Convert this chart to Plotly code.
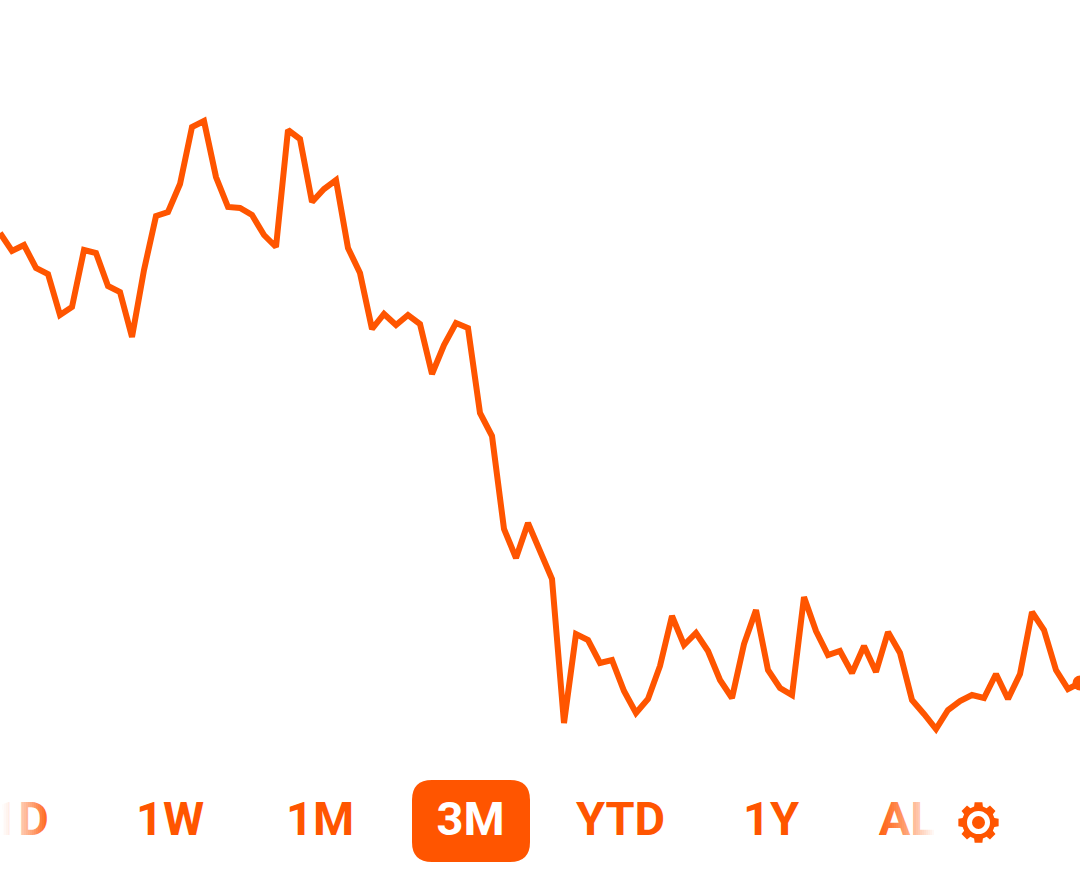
import math
import plotly.graph_objects as go

# Chart data: one reading per step
steps = list(range(91))
price = [653, 635, 641, 618, 612, 571, 579, 636, 633, 600, 594, 549, 616, 670, 674, 702, 759, 765, 709, 679,
         678, 671, 651, 639, 756, 747, 684, 697, 706, 638, 613, 557, 572, 561, 571, 562, 512, 541, 563, 558,
         473, 450, 357, 328, 363, 335, 307, 163, 252, 246, 223, 226, 195, 173, 187, 220, 270, 241, 253, 235,
         206, 188, 242, 276, 216, 198, 191, 289, 255, 231, 235, 213, 240, 214, 254, 233, 186, 172, 157, 176,
         185, 191, 188, 212, 187, 212, 274, 256, 216, 197, 203]
range_labels = ["1D", "1W", "1M", "3M", "YTD", "1Y", "ALL"]
selected_label = "3M"

ORANGE = "#FF5500"
W, H = 1080, 886
label_x = [20, 170, 320, 470.5, 620.5, 771, 920]
label_y = 823.5


def rounded_rect(x0, y0, x1, y1, r):
    return (f"M{x0+r},{y0} L{x1-r},{y0} Q{x1},{y0} {x1},{y0+r} L{x1},{y1-r} Q{x1},{y1} {x1-r},{y1} "
            f"L{x0+r},{y1} Q{x0},{y1} {x0},{y1-r} L{x0},{y0+r} Q{x0},{y0} {x0+r},{y0} Z")


def gear_path(cx, cy, r_out, r_in, teeth=8):
    pts = []
    step = 2 * math.pi / teeth
    for i in range(teeth):
        a = i * step - math.pi / 2
        for da, r in ((-0.27, r_in), (-0.19, r_out), (0.19, r_out), (0.27, r_in)):
            pts.append((cx + r * math.cos(a + da), cy + r * math.sin(a + da)))
    return "M" + " L".join(f"{x:.2f},{y:.2f}" for x, y in pts) + " Z"


def circle(cx, cy, r, color, layer="above"):
    return dict(type="circle", xref="x2", yref="y2", x0=cx - r, x1=cx + r, y0=cy - r, y1=cy + r,
                fillcolor=color, line_width=0, layer=layer)


def strip(x0, width, opacity):
    return dict(type="rect", xref="x2", yref="y2", x0=x0, x1=x0 + width, y0=795, y1=848,
                fillcolor="white", opacity=round(opacity, 3), line_width=0, layer="above")


shapes = [dict(type="path", xref="x2", yref="y2", path=rounded_rect(412, 780, 530, 862, 20),
               fillcolor=ORANGE, line_width=0, layer="below")]

# edge fades over the clipped range labels, in 2 px strips
for i in range(24):
    shapes.append(strip(2 * i, 2, 1.0 - 0.9 * (i / 23) ** 1.3))
for i in range(28):
    shapes.append(strip(880 + 2 * i, 2, 0.1 + 0.9 * (i / 27) ** 1.2))
shapes.append(strip(936, 32, 1.0))

# settings gear
gx, gy = 978.5, 822.5
shapes += [dict(type="path", xref="x2", yref="y2", path=gear_path(gx, gy, 20.5, 16.5),
                fillcolor=ORANGE, line_width=0, layer="above"),
           circle(gx, gy, 11.5, "white"),
           circle(gx, gy, 6.5, ORANGE)]

fig = go.Figure()
fig.add_trace(go.Scatter(x=steps, y=price, mode="lines", line=dict(color=ORANGE, width=6, shape="linear"),
                         hoverinfo="skip", showlegend=False))
fig.add_trace(go.Scatter(x=[steps[-1]], y=[price[-1]], mode="markers", marker=dict(color=ORANGE, size=15),
                         hoverinfo="skip", showlegend=False, cliponaxis=True))
fig.add_trace(go.Scatter(x=label_x, y=[label_y] * len(label_x), xaxis="x2", yaxis="y2", mode="text",
                         text=range_labels, textposition="middle center", cliponaxis=False,
                         textfont=dict(family="Roboto", size=47, weight=700,
                                       color=["white" if t == selected_label else ORANGE for t in range_labels]),
                         hoverinfo="skip", showlegend=False))

hidden = dict(visible=False, showgrid=False, zeroline=False, fixedrange=True)
fig.update_layout(
    width=W, height=H, margin=dict(l=0, r=0, t=0, b=0),
    paper_bgcolor="white", plot_bgcolor="white", showlegend=False,
    xaxis=dict(range=[0, 90], domain=[0, 1], **hidden),
    yaxis=dict(range=[0, H], domain=[0, 1], **hidden),
    xaxis2=dict(range=[0, W], domain=[0, 1], overlaying="x", **hidden),
    yaxis2=dict(range=[H, 0], domain=[0, 1], overlaying="y", **hidden),
    shapes=shapes,
)
fig.write_html("out.html", config=dict(displayModeBar=False),
               post_script="document.body.style.margin='0';document.body.style.overflow='hidden';")
